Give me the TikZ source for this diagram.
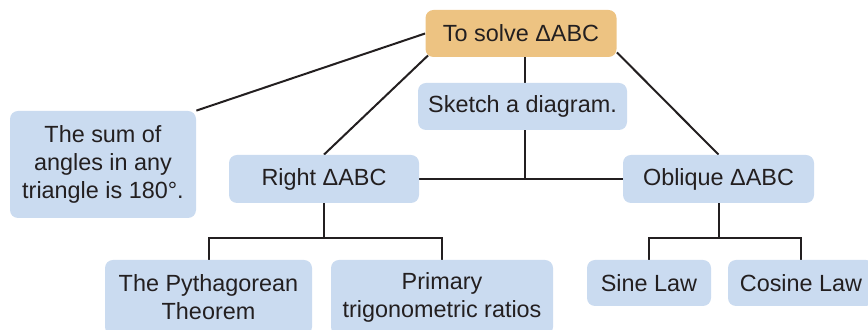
\documentclass[tikz,border=0pt]{standalone}
\usepackage{fontspec}
\setmainfont{Liberation Sans}
\usetikzlibrary{positioning,calc,backgrounds}
\definecolor{boxblue}{HTML}{CADBF0}
\definecolor{boxorange}{HTML}{EDC382}
\definecolor{inkgray}{HTML}{231F20}
\tikzset{
  box/.style={fill=boxblue, rounded corners=4pt, align=center, inner sep=0pt, text=inkgray, font=\fontsize{11.7}{14}\selectfont},
  goalbox/.style={box, fill=boxorange},
  line/.style={line width=1pt, inkgray}
}

\begin{document}
\begin{tikzpicture}[x=0.5pt, y=-0.5pt]
  \useasboundingbox (0,0) rectangle (868,330);
  \node[goalbox, minimum width=95.5pt, minimum height=23.5pt] (goal) at (521,33.5) {To solve ΔABC};
  \node[box, minimum width=104.5pt, minimum height=23.5pt] (sketch) at (522.5,106.5) {Sketch a diagram.};
  \node[box, minimum width=93pt, minimum height=53.5pt] (sum) at (103,164.5) {The sum of\\angles in any\\triangle is 180°.};
  \node[box, minimum width=95pt, minimum height=24pt] (right) at (324,179) {Right ΔABC};
  \node[box, minimum width=95.5pt, minimum height=24pt] (oblique) at (718.5,179) {Oblique ΔABC};
  \node[box, minimum width=103.5pt, minimum height=37.5pt] (pyth) at (208.5,297.5) {The Pythagorean\\Theorem};
  \node[box, minimum width=111pt, minimum height=37.5pt] (trig) at (442,297.5) {Primary\\trigonometric ratios};
  \node[box, minimum width=62pt, minimum height=23pt] (sine) at (649,283) {Sine Law};
  \node[box, minimum width=73pt, minimum height=23pt] (cosine) at (801,283) {Cosine Law};
  \coordinate (stem) at (525,0);
  \coordinate (mid) at (stem |- right.east);
  \coordinate (rjoin) at ($(right.south)+(0,35)$);
  \coordinate (ojoin) at ($(oblique.south)+(0,35)$);
  \begin{scope}[on background layer]
    \draw[line] (goal.west) -- (sum.north east);
    \draw[line] ($(goal.south west)+(3,-2)$) -- (right.north);
    \draw[line] ($(goal.south east)+(0,-5)$) -- (oblique.north);
    \draw[line] (goal.south -| stem) -- (sketch.north -| stem);
    \draw[line] (sketch.south -| stem) -- (mid);
    \draw[line] (right.east) -- (oblique.west);
    \draw[line] (right.south) -- (rjoin);
    \draw[line] (pyth.north) |- (rjoin) -| (trig.north);
    \draw[line] (oblique.south) -- (ojoin);
    \draw[line] (sine.north) |- (ojoin) -| (cosine.north);
  \end{scope}
\end{tikzpicture}
\end{document}
